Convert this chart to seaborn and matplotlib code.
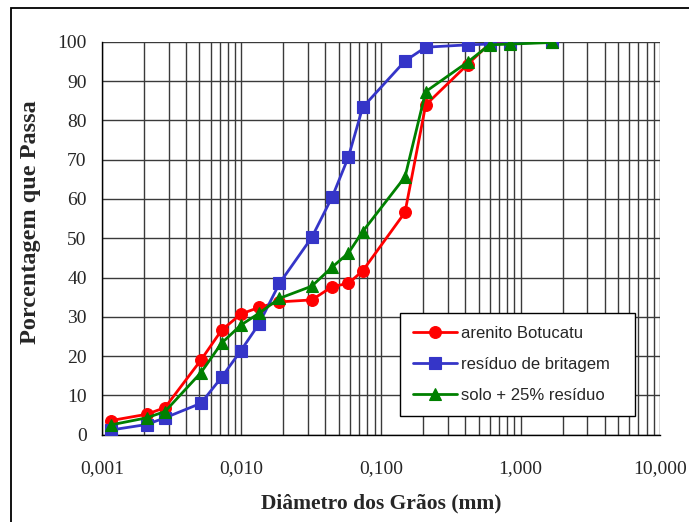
import matplotlib
matplotlib.use("Agg")
import matplotlib.pyplot as plt
from matplotlib.patches import Rectangle
from matplotlib.ticker import FixedLocator, LogLocator, NullFormatter
import numpy as np
import pandas as pd
import seaborn as sns

# Grain diameters (mm) of the hydrometer + sieve analysis
diametro = [0.00116, 0.00209, 0.00283, 0.00512, 0.0072, 0.0099, 0.01335, 0.0187,
            0.0319, 0.0448, 0.0583, 0.0739, 0.1486, 0.209, 0.417, 0.60, 0.84, 1.68]

# Percentage passing for each material
arenito = [3.6, 5.2, 6.9, 19.0, 26.6, 30.7, 32.4, 33.8,
           34.3, 37.7, 38.5, 41.7, 56.6, 83.9, 94.2, 99.5, 100.0, 100.0]
residuo = [1.2, 2.6, 4.3, 8.0, 14.6, 21.4, 28.2, 38.5,
           50.2, 60.6, 70.6, 83.3, 95.1, 98.6, 99.2, 99.4, 99.6, 99.9]
solo_residuo = [2.5, 4.3, 5.9, 15.8, 23.3, 27.9, 30.9, 34.7,
                37.8, 42.7, 46.2, 51.7, 65.6, 87.3, 94.8, 99.2, 99.4, 99.8]

series_names = ["arenito Botucatu", "resíduo de britagem", "solo + 25% resíduo"]
series_values = [arenito, residuo, solo_residuo]
series_colors = ["#ff0000", "#3535c8", "#008000"]
series_markers = ["o", "s", "^"]
series_msize = [8.5, 8, 9]

x_ticks = [0.001, 0.01, 0.1, 1, 10]
x_tick_labels = ["0,001", "0,010", "0,100", "1,000", "10,000"]
y_ticks = list(range(0, 101, 10))

df = pd.concat(
    [pd.DataFrame({"diametro": diametro, "passa": vals, "serie": name})
     for name, vals in zip(series_names, series_values)],
    ignore_index=True,
)

sns.set_theme(style="white")
plt.rcParams["font.family"] = ["Liberation Serif", "DejaVu Serif"]

fig = plt.figure(figsize=(6.89, 5.22), dpi=100)
ax = fig.add_axes([0.148, 0.1672, 0.810, 0.7529])

for name, color, marker, ms in zip(series_names, series_colors, series_markers, series_msize):
    sns.lineplot(data=df[df["serie"] == name], x="diametro", y="passa",
                 color=color, marker=marker, markersize=ms,
                 markeredgecolor=color, markeredgewidth=0.8,
                 linewidth=2, sort=False, label=name, ax=ax, zorder=3)

ax.set_xscale("log")
ax.set_xlim(0.001, 10)
ax.set_ylim(0, 100)

ax.xaxis.set_major_locator(FixedLocator(x_ticks))
ax.set_xticklabels(x_tick_labels)
ax.xaxis.set_minor_locator(LogLocator(base=10, subs=np.arange(2, 10), numticks=50))
ax.xaxis.set_minor_formatter(NullFormatter())
ax.set_yticks(y_ticks)

ax.grid(True, which="major", axis="both", color="#3a3a3a", linewidth=1.0)
ax.grid(True, which="minor", axis="x", color="#3a3a3a", linewidth=1.0)
ax.set_axisbelow(True)

for side in ["top", "right"]:
    ax.spines[side].set_visible(False)
for side in ["left", "bottom"]:
    ax.spines[side].set_color("black")
    ax.spines[side].set_linewidth(1.0)

ax.tick_params(axis="both", which="major", direction="out", length=6, width=1,
               color="black", labelsize=14, pad=5)
ax.tick_params(axis="x", which="minor", length=0)
ax.tick_params(axis="x", which="major", pad=12)

ax.set_xlabel("Diâmetro dos Grãos (mm)", fontsize=15.5, fontweight="bold", labelpad=12)
ax.set_ylabel("Porcentagem que Passa", fontsize=17.5, fontweight="bold")
ax.yaxis.set_label_coords(-0.11, 0.54)

leg = ax.legend(loc="lower left", bbox_to_anchor=(0.534, 0.0476, 0.421, 0.28),
                mode="expand", frameon=True,
                fancybox=False, shadow=False, edgecolor="black", framealpha=1,
                prop={"family": ["Liberation Sans", "DejaVu Sans"], "size": 12},
                handlelength=2.6, handletextpad=0.25, labelspacing=0.95,
                borderpad=0.8, borderaxespad=0)
leg.get_frame().set_linewidth(1.0)

# outer frame of the figure
fig.patches.append(Rectangle((11 / 689, -0.5), 2.0, 0.5 + 1 - 8 / 522,
                             transform=fig.transFigure, fill=False,
                             edgecolor="black", linewidth=1.3))

fig.savefig("out.png", dpi=100)
